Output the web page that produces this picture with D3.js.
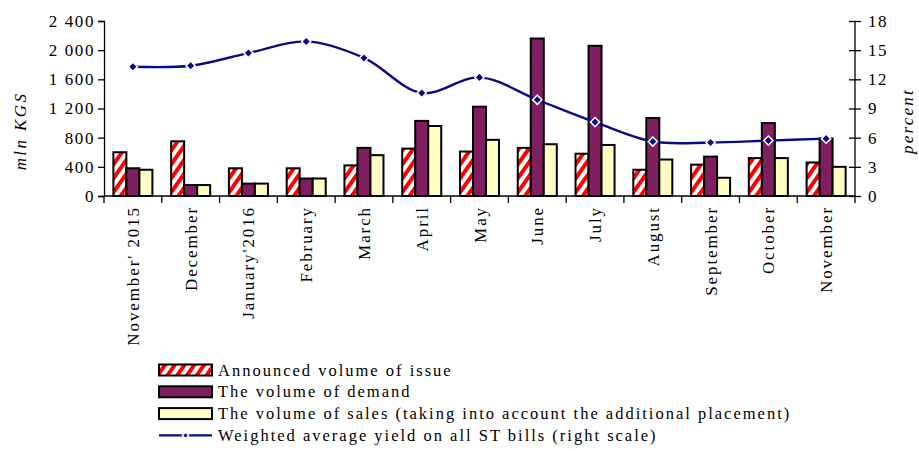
<!DOCTYPE html>
<html>
<head>
<meta charset="utf-8">
<script src="https://cdn.jsdelivr.net/npm/d3@7"></script>
<style>
  body { margin: 0; background: #fff; }
  text { font-family: "Liberation Serif", "Times New Roman", serif; fill: #000; }
</style>
</head>
<body>
<div id="chart"></div>
<script>
const categories = ["November' 2015", "December", "January'2016", "February", "March", "April",
  "May", "June", "July", "August", "September", "October", "November"];
const announced = [600, 750, 380, 380, 420, 650, 610, 660, 580, 360, 430, 520, 460];
const demand = [380, 150, 170, 240, 660, 1030, 1225, 2160, 2060, 1070, 540, 1000, 790];
const sales = [360, 150, 170, 240, 560, 960, 770, 710, 700, 500, 250, 520, 400];
const yieldPct = [13.3, 13.4, 14.7, 15.9, 14.2, 10.6, 12.2, 9.9, 7.6, 5.6, 5.5, 5.7, 5.9];
const leftTicks = [0, 400, 800, 1200, 1600, 2000, 2400];
const rightTicks = [0, 3, 6, 9, 12, 15, 18];
const seriesNames = ["Announced volume of issue", "The volume of demand",
  "The volume of sales (taking into account the additional placement)"];
const lineName = "Weighted average yield on all ST bills (right scale)";

const width = 919, height = 451;
const margin = { top: 21, right: 64, bottom: 255, left: 104 };
const innerW = width - margin.left - margin.right;
const innerH = height - margin.top - margin.bottom;

const svg = d3.select("#chart").append("svg")
  .attr("width", width)
  .attr("height", height);

// diagonal stripes for the announced volume
const defs = svg.append("defs");
const pat = defs.append("pattern")
  .attr("id", "stripes")
  .attr("patternUnits", "userSpaceOnUse")
  .attr("width", 8).attr("height", 8)
  .attr("patternTransform", "rotate(35)");
pat.append("rect").attr("width", 8).attr("height", 8).attr("fill", "#fff");
pat.append("rect").attr("width", 4).attr("height", 8).attr("fill", "#ff0000");

const fills = ["url(#stripes)", "#7f1f5f", "#ffffc4"];
const table = categories.map((c, i) => ({ cat: c, vals: [announced[i], demand[i], sales[i]], y: yieldPct[i] }));

const g = svg.append("g")
  .attr("transform", "translate(" + margin.left + "," + margin.top + ")");

const x = d3.scaleBand().domain(categories).range([0, innerW]).padding(0);
const x1 = d3.scaleBand().domain([0, 1, 2]).range([0, x.bandwidth()]).paddingInner(0).paddingOuter(0.72);
const y = d3.scaleLinear().domain([0, 2400]).range([innerH, 0]);
const y2 = d3.scaleLinear().domain([0, 18]).range([innerH, 0]);

// bars
const groups = g.selectAll(".grp")
  .data(table)
  .join("g")
  .attr("transform", d => "translate(" + x(d.cat) + ",0)");
groups.selectAll("rect")
  .data(d => d.vals.map((v, k) => ({ k, v })))
  .join("rect")
  .attr("x", d => x1(d.k))
  .attr("y", d => y(d.v))
  .attr("width", x1.bandwidth())
  .attr("height", d => innerH - y(d.v))
  .attr("fill", d => fills[d.k])
  .attr("stroke", "#000")
  .attr("stroke-width", 2);

// left axis
const axL = g.append("g")
  .call(d3.axisLeft(y).tickValues(leftTicks).tickSize(6).tickPadding(3)
    .tickFormat(d => d3.format(",")(d).replace(",", " ")));
axL.selectAll("text").style("font-size", "17px").style("letter-spacing", "1.6px");
axL.selectAll("line, path").attr("stroke", "#000").attr("stroke-width", 1.3);

// right axis
const axR = g.append("g")
  .attr("transform", "translate(" + innerW + ",0)")
  .call(d3.axisRight(y2).tickValues(rightTicks).tickSize(6).tickPadding(7));
axR.select(".domain").attr("d", "M0,0V" + innerH);
axR.selectAll(".tick line").attr("x1", -6);
axR.selectAll("text").style("font-size", "17px").style("letter-spacing", "1.6px");
axR.selectAll("line, path").attr("stroke", "#000").attr("stroke-width", 1.3);

// bottom axis with ticks at category boundaries
const axB = g.append("g").attr("transform", "translate(0," + innerH + ")");
axB.append("line").attr("x1", 0).attr("x2", innerW).attr("stroke", "#000").attr("stroke-width", 1.3);
axB.selectAll(".bt")
  .data(categories.concat([null]))
  .join("line")
  .attr("x1", (d, i) => i * x.step())
  .attr("x2", (d, i) => i * x.step())
  .attr("y1", 0).attr("y2", 7)
  .attr("stroke", "#000").attr("stroke-width", 1.3);
axB.selectAll(".cl")
  .data(categories)
  .join("text")
  .attr("transform", d => "translate(" + (x(d) + x.bandwidth() / 2 + 6) + ",10) rotate(-90)")
  .attr("text-anchor", "end")
  .style("font-size", "17px")
  .style("letter-spacing", "1.9px")
  .text(d => d);

// yield line
const line = d3.line()
  .x(d => x(d.cat) + x.bandwidth() / 2)
  .y(d => y2(d.y))
  .curve(d3.curveCatmullRom.alpha(0.5));
g.append("path")
  .datum(table)
  .attr("d", line)
  .attr("fill", "none")
  .attr("stroke", "#0a0a84")
  .attr("stroke-width", 2.4);
const diamond = d3.symbol(d3.symbolSquare, 42);
g.selectAll(".mk")
  .data(table)
  .join("path")
  .attr("d", diamond)
  .attr("transform", d => "translate(" + (x(d.cat) + x.bandwidth() / 2) + "," + y2(d.y) + ") rotate(45)")
  .attr("fill", "#0a0a84")
  .attr("stroke", "#fff")
  .attr("stroke-width", 1.5);

// axis titles
svg.append("text")
  .attr("transform", "translate(26,131) rotate(-90)")
  .attr("text-anchor", "middle")
  .style("font-size", "17px").style("font-style", "italic").style("letter-spacing", "2.4px")
  .text("mln  KGS");
svg.append("text")
  .attr("transform", "translate(913,121) rotate(-90)")
  .attr("text-anchor", "middle")
  .style("font-size", "17px").style("font-style", "italic").style("letter-spacing", "2.2px")
  .text("percent");

// legend
const legend = svg.append("g").attr("transform", "translate(159,370)");
const rowH = 21.8;
seriesNames.forEach((name, k) => {
  const row = legend.append("g").attr("transform", "translate(0," + k * rowH + ")");
  row.append("rect")
    .attr("x", 0).attr("y", -5.5)
    .attr("width", 53).attr("height", 11)
    .attr("fill", fills[k])
    .attr("stroke", "#000").attr("stroke-width", 2);
  row.append("text")
    .attr("x", 59).attr("y", 5.5)
    .style("font-size", "16.5px").style("letter-spacing", "2px")
    .text(name);
});
const lrow = legend.append("g").attr("transform", "translate(0," + 3 * rowH + ")");
lrow.append("line").attr("x1", 0).attr("x2", 53).attr("stroke", "#0a0a84").attr("stroke-width", 2.2);
lrow.append("path").attr("d", d3.symbol(d3.symbolSquare, 20))
  .attr("transform", "translate(26.5,0) rotate(45)")
  .attr("fill", "#0a0a84").attr("stroke", "#fff").attr("stroke-width", 1.4);
lrow.append("text")
  .attr("x", 59).attr("y", 5.5)
  .style("font-size", "16.5px").style("letter-spacing", "2px")
  .text(lineName);
</script>
</body>
</html>
